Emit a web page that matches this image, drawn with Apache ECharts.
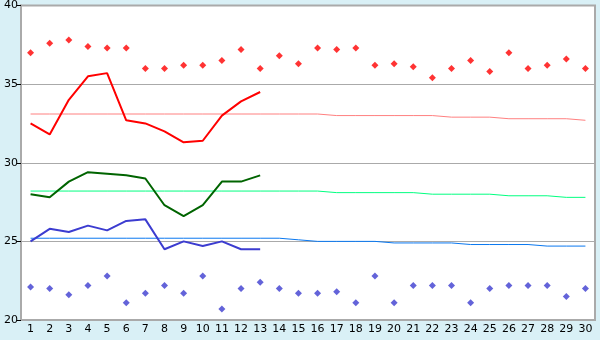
<!DOCTYPE html>
<html><head><meta charset="utf-8">
<script src="https://cdn.jsdelivr.net/npm/echarts@6/dist/echarts.min.js"></script>
<style>html,body{margin:0;padding:0;background:#d9f0f6;}#c{width:600px;height:340px;}</style>
</head><body><div id="c"></div>
<script>
var days = [];
for (var i = 1; i <= 30; i++) days.push(String(i));
var yTicks = [20, 25, 30, 35, 40];
var recordMax = [37.0,37.6,37.8,37.4,37.3,37.3,36.0,36.0,36.2,36.2,36.5,37.2,36.0,36.8,36.3,37.3,37.2,37.3,36.2,36.3,36.1,35.4,36.0,36.5,35.8,37.0,36.0,36.2,36.6,36.0];
var recordMin = [22.1,22.0,21.6,22.2,22.8,21.1,21.7,22.2,21.7,22.8,20.7,22.0,22.4,22.0,21.7,21.7,21.8,21.1,22.8,21.1,22.2,22.2,22.2,21.1,22.0,22.2,22.2,22.2,21.5,22.0];
var tMax = [32.5,31.8,34.0,35.5,35.7,32.7,32.5,32.0,31.3,31.4,33.0,33.9,34.5];
var tAvg = [28.0,27.8,28.8,29.4,29.3,29.2,29.0,27.3,26.6,27.3,28.8,28.8,29.2];
var tMin = [25.0,25.8,25.6,26.0,25.7,26.3,26.4,24.5,25.0,24.7,25.0,24.5,24.5];
var normMax = [33.1,33.1,33.1,33.1,33.1,33.1,33.1,33.1,33.1,33.1,33.1,33.1,33.1,33.1,33.1,33.1,33.0,33.0,33.0,33.0,33.0,33.0,32.9,32.9,32.9,32.8,32.8,32.8,32.8,32.7];
var normAvg = [28.2,28.2,28.2,28.2,28.2,28.2,28.2,28.2,28.2,28.2,28.2,28.2,28.2,28.2,28.2,28.2,28.1,28.1,28.1,28.1,28.1,28.0,28.0,28.0,28.0,27.9,27.9,27.9,27.8,27.8];
var normMin = [25.2,25.2,25.2,25.2,25.2,25.2,25.2,25.2,25.2,25.2,25.2,25.2,25.2,25.2,25.1,25.0,25.0,25.0,25.0,24.9,24.9,24.9,24.9,24.8,24.8,24.8,24.8,24.7,24.7,24.7];

var chart = echarts.init(document.getElementById('c'), null, {renderer: 'canvas'});
var font = {fontFamily: 'DejaVu Sans', fontSize: 11, color: '#000'};
function lineS(name, data, color, w, z) {
  return {name: name, type: 'line', data: data, symbol: 'none', z: z,
    lineStyle: {color: color, width: w}, itemStyle: {color: color}, animation: false};
}
function scatS(name, data, color) {
  return {name: name, type: 'scatter', data: data, symbol: 'diamond', symbolSize: 7, z: 5,
    itemStyle: {color: color}, animation: false};
}
chart.setOption({
  animation: false,
  backgroundColor: '#d9f0f6',
  grid: {left: 21, right: 5, top: 5, bottom: 20, show: true, backgroundColor: '#fff', borderColor: '#aaa', borderWidth: 2},
  xAxis: {type: 'category', data: days, boundaryGap: true,
    axisLine: {lineStyle: {color: '#aaa', width: 2}},
    axisTick: {alignWithLabel: true, length: 5, lineStyle: {color: '#000'}},
    axisLabel: Object.assign({margin: 4, interval: 0}, font), splitLine: {show: false}},
  yAxis: {type: 'value', min: yTicks[0], max: yTicks[yTicks.length - 1], interval: 5,
    axisLine: {show: true, lineStyle: {color: '#aaa', width: 2}},
    axisTick: {show: true, length: 4, lineStyle: {color: '#000'}},
    axisLabel: Object.assign({margin: 3}, font),
    splitLine: {lineStyle: {color: '#aaa', width: 1}}},
  series: [
    lineS('normMax', normMax, '#ff8080', 1, 2),
    lineS('normAvg', normAvg, '#00ff80', 1, 2),
    lineS('normMin', normMin, '#0a78f0', 1, 2),
    lineS('max', tMax, '#ff0000', 2, 3),
    lineS('avg', tAvg, '#006400', 2, 3),
    lineS('min', tMin, '#3c3cd0', 2, 3),
    scatS('recMax', recordMax, '#ff0000'),
    scatS('recMin', recordMin, '#3c3cd0')
  ]
});
</script></body></html>
